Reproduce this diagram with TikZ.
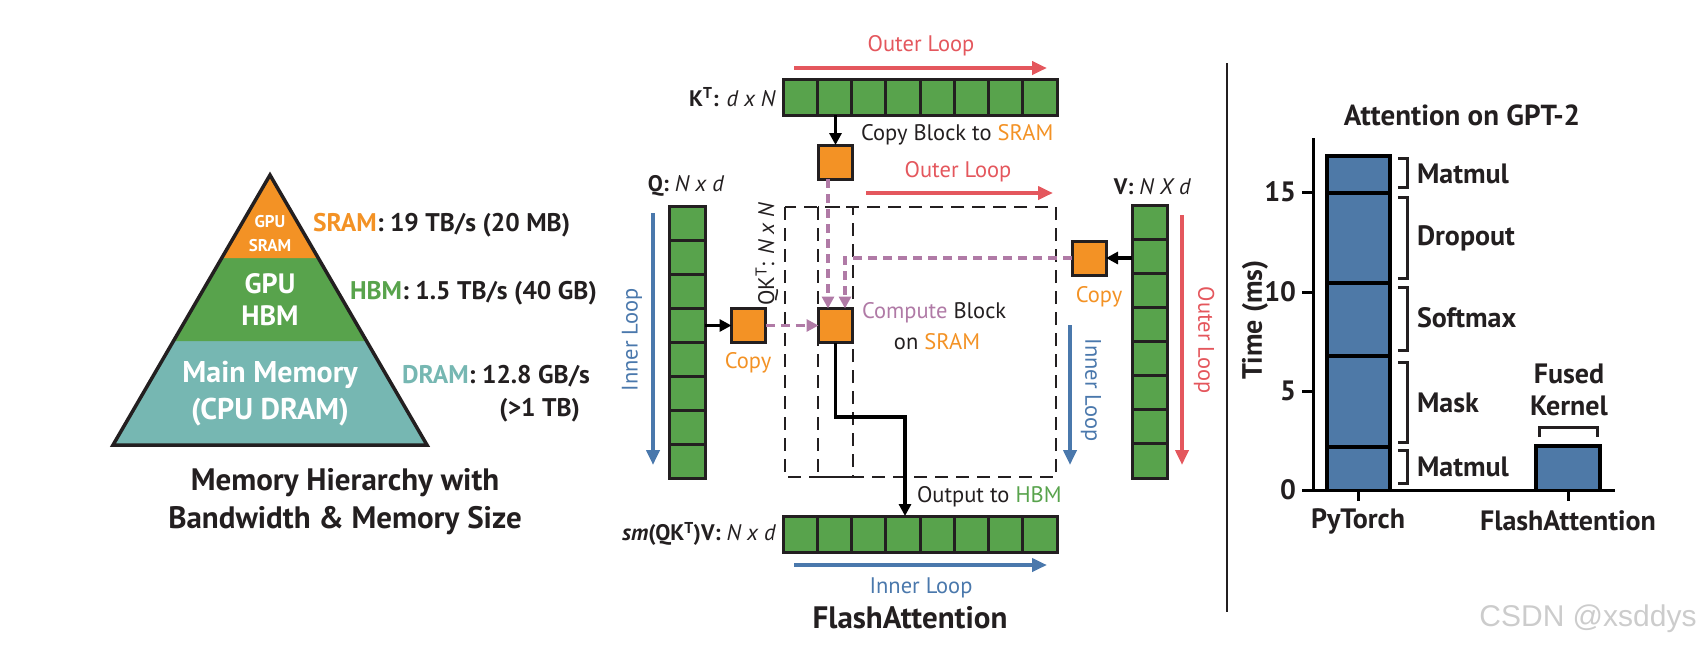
\documentclass[tikz,border=0pt]{standalone}
\usepackage{fontspec}
\setmainfont{PT Sans}
\newfontfamily\wmfont{Liberation Sans}
\usetikzlibrary{arrows.meta,calc}
\definecolor{corange}{RGB}{243,146,37}
\definecolor{cgreen}{RGB}{88,163,76}
\definecolor{cteal}{RGB}{118,183,178}
\definecolor{cred}{RGB}{228,87,93}
\definecolor{cblue}{RGB}{74,120,172}
\definecolor{cpurple}{RGB}{176,122,166}
\definecolor{cbar}{RGB}{78,121,167}
\definecolor{ctext}{RGB}{35,31,32}
\tikzset{
  txt/.style={inner sep=0pt, outer sep=0pt, text=ctext},
  lab/.style={txt, font=\fontsize{25.5}{29}\selectfont\bfseries},
  barlab/.style={txt, font=\fontsize{28}{32}\selectfont\bfseries},
  midt/.style={txt, font=\fontsize{22.5}{26}\selectfont},
  gridbox/.style={draw=ctext, line width=3pt, fill=cgreen, inner sep=0pt, outer sep=0pt},
  blk/.style={draw=ctext, line width=3pt, fill=corange, inner sep=0pt, outer sep=0pt, minimum width=34pt, minimum height=34pt},
  blackarrow/.style={draw=black, line width=3.2pt, -{Triangle[length=12pt,width=12pt]}},
  loopred/.style={draw=cred, line width=3.8pt, -{Triangle[length=15pt,width=13pt]}},
  loopblue/.style={draw=cblue, line width=3.8pt, -{Triangle[length=15pt,width=13pt]}},
  purp/.style={draw=cpurple, line width=3.5pt, dash pattern=on 9pt off 6pt, -{Triangle[length=12pt,width=12pt]}},
  dbox/.style={draw=ctext, line width=1.6pt, dash pattern=on 13pt off 8pt},
  brk/.style={draw=ctext, line width=3pt},
  divline/.style={draw=ctext, line width=3pt},
}
\begin{document}
\begin{tikzpicture}[x=1pt,y=-1pt]
\useasboundingbox (0,0) rectangle (1704,649);
% ---------------- Pyramid ----------------
\fill[cteal] (113,445) -- (427,445) -- (366.5,341) -- (173.5,341) -- cycle;
\fill[cgreen] (173.5,341) -- (366.5,341) -- (318.3,258) -- (221.7,258) -- cycle;
\fill[corange] (221.7,258) -- (318.3,258) -- (270,175) -- cycle;
\draw[line width=3.5pt, draw=ctext, line join=miter] (270,175) -- (427,445) -- (113,445) -- cycle;
\node[txt, text=white, font=\fontsize{17}{20}\selectfont\bfseries] (p1a) at (270,222) {GPU};
\node[txt, text=white, font=\fontsize{17}{20}\selectfont\bfseries] (p1b) at (270,246) {SRAM};
\node[txt, text=white, font=\fontsize{28}{31}\selectfont\bfseries] (p2a) at (270,284) {GPU};
\node[txt, text=white, font=\fontsize{28}{31}\selectfont\bfseries] (p2b) at (270,316) {HBM};
\node[txt, text=white, font=\fontsize{30}{34}\selectfont\bfseries] (p3a) at (270,375) {Main Memory};
\node[txt, text=white, font=\fontsize{30}{34}\selectfont\bfseries] (p3b) at (270,412) {(CPU DRAM)};
\node[lab, anchor=west] (l1) at (313,225) {\textcolor{corange}{SRAM}: 19 TB/s (20 MB)};
\node[lab, anchor=west] (l2) at (350,293) {\textcolor{cgreen}{HBM}: 1.5 TB/s (40 GB)};
\node[lab, anchor=west] (l3) at (402,376) {\textcolor{cteal}{DRAM}: 12.8 GB/s};
\node[lab, anchor=east] (l4) at (580,410) {(>1 TB)};
\node[txt, font=\fontsize{31}{35}\selectfont\bfseries] (cap1) at (345,483) {Memory Hierarchy with};
\node[txt, font=\fontsize{31}{35}\selectfont\bfseries] (cap2) at (345,521) {Bandwidth \& Memory Size};
% ---------------- FlashAttention ----------------
\draw[dbox] (785,207) rectangle (1056,477);
\draw[dbox] (818,207) rectangle (853,477);
% matrices
\node[gridbox, minimum width=274pt, minimum height=36pt] (kt) at (920,97) {};
\node[gridbox, minimum width=274pt, minimum height=36pt] (o) at (920,534) {};
\node[gridbox, minimum width=36pt, minimum height=272pt] (q) at (687,342) {};
\node[gridbox, minimum width=35pt, minimum height=273pt] (v) at (1149.5,341.5) {};
\foreach \i in {1,...,7} {
  \draw[divline] ($(kt.north west)!{\i/8}!(kt.north east)$) -- ($(kt.south west)!{\i/8}!(kt.south east)$);
  \draw[divline] ($(o.north west)!{\i/8}!(o.north east)$) -- ($(o.south west)!{\i/8}!(o.south east)$);
  \draw[divline] ($(q.north west)!{\i/8}!(q.south west)$) -- ($(q.north east)!{\i/8}!(q.south east)$);
  \draw[divline] ($(v.north west)!{\i/8}!(v.south west)$) -- ($(v.north east)!{\i/8}!(v.south east)$);
}
% blocks
\node[blk] (kb) at (835.5,162) {};
\node[blk] (cb) at (835.5,325.5) {};
\node[blk] (qb) at (748.5,325.5) {};
\node[blk] (vb) at (1089,258) {};
% connectors
\draw[blackarrow] (kb |- kt.south) -- (kb.north);
\draw[blackarrow] (q.east |- qb) -- (qb.west);
\draw[blackarrow] (v.west |- vb) -- (vb.east);
\draw[purp] (qb.east) -- (cb.west);
\draw[purp] ([xshift=-7.5pt]kb.south) -- ([xshift=-7.5pt]cb.north);
\draw[purp] (vb.west) -| ([xshift=9.5pt]cb.north);
\coordinate (bend) at (905,417);
\draw[blackarrow] (cb.south) |- (bend) -- (bend |- o.north);
% loops
\draw[loopred] (794,68) -- (1047,68);
\node[midt, text=cred] (ol1) at (921,46) {Outer Loop};
\draw[loopred] (866,193) -- (1053,193);
\node[midt, text=cred] (ol2) at (958,172) {Outer Loop};
\draw[loopblue] (653,213) -- (653,465);
\node[midt, text=cblue, rotate=90] (il1) at (632,340) {Inner Loop};
\draw[loopblue] (1070,325) -- (1070,465);
\node[midt, text=cblue, rotate=-90] (il2) at (1091,390) {Inner Loop};
\draw[loopred] (1182,215) -- (1182,465);
\node[midt, text=cred, rotate=-90] (ol3) at (1204,340) {Outer Loop};
\draw[loopblue] (794,565) -- (1047,565);
\node[midt, text=cblue] (il3) at (921,588) {Inner Loop};
% labels
\node[midt, anchor=east] (ktl) at (776,97) {\textbf{K\textsuperscript{T}:} \textit{d x N}};
\node[midt] (ql) at (686,186) {\textbf{Q:} \textit{N x d}};
\node[midt, anchor=east] (vl) at (1191,187) {\textbf{V:} \textit{N X d}};
\node[midt, anchor=east] (ol) at (776,534) {\textbf{\textit{sm}(QK\textsuperscript{T})V:} \textit{N x d}};
\node[midt, rotate=90] (qkl) at (767,254) {QK\textsuperscript{T}: \textit{N x N}};
\node[midt, anchor=west] (cbl) at (861,135) {Copy Block to \textcolor{corange}{SRAM}};
\node[midt, anchor=west] (cpl) at (862,313) {\textcolor{cpurple}{Compute} Block};
\node[midt] (cpl2) at (937,342) {on \textcolor{corange}{SRAM}};
\node[midt, anchor=west] (otl) at (917,497) {Output to \textcolor{cgreen}{HBM}};
\node[midt, text=corange] (cpq) at (748,363) {Copy};
\node[midt, text=corange] (cpv) at (1099,297) {Copy};
\node[txt, font=\fontsize{31}{35}\selectfont\bfseries] (fat) at (910,618) {FlashAttention};
% separator
\draw[line width=2.5pt, draw=ctext] (1227,63) -- (1227,612);
% ---------------- Bar chart ----------------
\node[txt, font=\fontsize{29}{33}\selectfont\bfseries] (title) at (1462,115) {Attention on GPT-2};
\fill[cbar] (1327,156) rectangle (1390,490);
\foreach \y in {193,283,356,447} \draw[line width=3.5pt, draw=black] (1327,\y) -- (1390,\y);
\draw[line width=3.5pt, draw=black] (1327,490) -- (1327,156) -- (1390,156) -- (1390,490);
\fill[cbar] (1536,446) rectangle (1600,490);
\draw[line width=3.5pt, draw=black] (1536,490) -- (1536,446) -- (1600,446) -- (1600,490);
\draw[line width=3pt, draw=black] (1313,138) -- (1313,491.5);
\draw[line width=3pt, draw=black] (1311.5,490) -- (1615,490);
\foreach \v/\y in {0/490,5/391,10/292,15/192} {
  \draw[line width=3pt, draw=black] (1302,\y) -- (1313,\y);
  \node[barlab, anchor=east] at (1296,\y) {\v};
}
\foreach \x in {1358,1568} \draw[line width=3pt, draw=black] (\x,490) -- (\x,501);
\foreach \a/\b in {158/187,197/278,287/350,362/442,450/483}
  \draw[brk] (1398,\a) -- (1407,\a) -- (1407,\b) -- (1398,\b);
\node[barlab, anchor=west] (m1) at (1417,174) {Matmul};
\node[barlab, anchor=west] (m2) at (1417,238) {Dropout};
\node[barlab, anchor=west] (m3) at (1417,318) {Softmax};
\node[barlab, anchor=west] (m4) at (1417,403) {Mask};
\node[barlab, anchor=west] (m5) at (1417,467) {Matmul};
\draw[brk] (1539,437) -- (1539,427) -- (1597,427) -- (1597,437);
\node[barlab] (fk1) at (1569,374) {Fused};
\node[barlab] (fk2) at (1569,406) {Kernel};
\node[barlab] (xl1) at (1358,521) {PyTorch};
\node[barlab] (xl2) at (1568,521) {FlashAttention};
\node[barlab, rotate=90] (yl) at (1255,320) {Time (ms)};
% watermark
\node[txt, text=black!20, font=\wmfont\fontsize{30}{34}\selectfont] (wm) at (1588,619) {CSDN @xsddys};
\end{tikzpicture}
\end{document}
